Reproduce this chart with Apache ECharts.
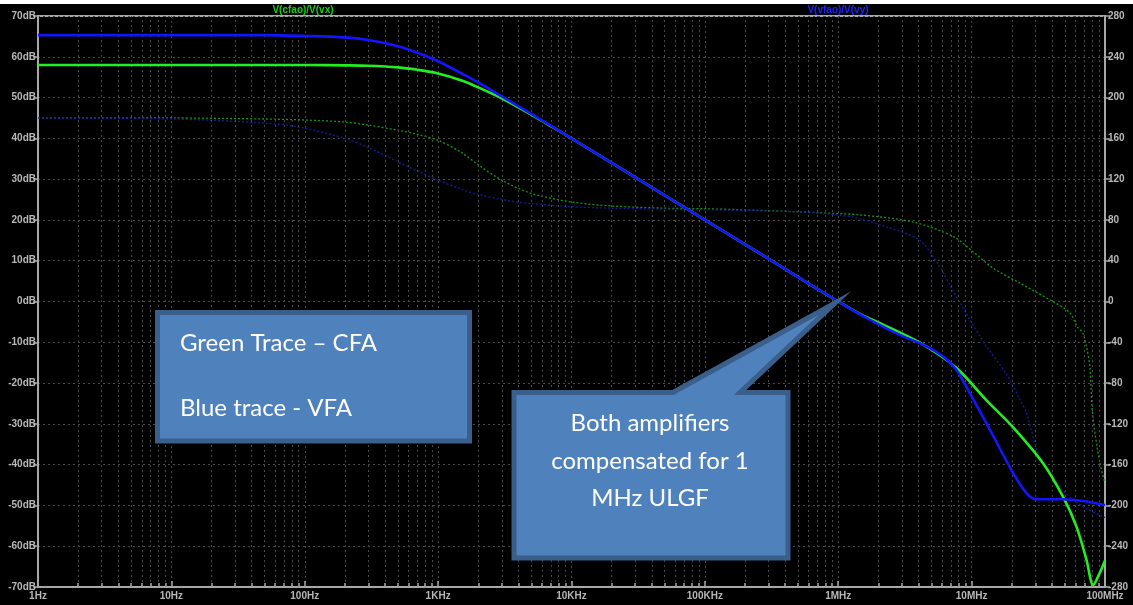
<!DOCTYPE html>
<html>
<head>
<meta charset="utf-8">
<script src="https://cdn.jsdelivr.net/npm/echarts@6/dist/echarts.min.js"></script>
<style>
html,body{margin:0;padding:0;background:#fff;}
#chart{width:1133px;height:605px;}
</style>
</head>
<body>
<div id="chart"></div>
<script>
// ---- data (frequency in Hz, magnitude in dB, phase in degrees) ----
const xTickLabels = ['1Hz','10Hz','100Hz','1KHz','10KHz','100KHz','1MHz','10MHz','100MHz'];

const cfaFreq = [1,10,50,100,200,300,500,700,1000,1500,2000,3000,5000,7000,1e4,2e4,5e4,1e5,2e5,5e5,1e6,1.5e6,2.05e6,4.09e6,7.7e6,1.3e7,2.04e7,3.42e7,4.83e7,6.11e7,7.26e7,8.15e7,9.14e7,1e8];
const cfaMag  = [58,58,58,58,57.9,57.8,57.4,56.8,55.9,54.2,52.5,49.8,45.8,43.0,40.0,34,26,20,14,6,0,-3.3,-5.3,-10.1,-16.3,-24.3,-30.8,-39.6,-47.8,-55.2,-63.3,-69.5,-66.5,-63.5];

const vfaFreq = [1,10,50,100,200,300,500,700,1000,1500,2000,3000,5000,7000,1e4,2e4,5e4,1e5,2e5,5e5,1e6,1.5e6,2.73e6,4.59e6,6.12e6,7.7e6,9.7e6,1.29e7,2.05e7,2.58e7,3.06e7,4.83e7,6.82e7,1e8];
const vfaMag  = [65.3,65.3,65.3,65.1,64.75,64.1,62.6,61.0,58.9,55.9,53.7,50.3,46.0,43.1,40.0,34,26,20,14,6,0,-3.4,-7.8,-11.0,-13.5,-16.8,-22.5,-29.8,-42.1,-47,-48.5,-48.5,-48.9,-49.9];

const cfaPhaseFreq = [1,10,50,100,200,300,500,700,1000,1500,2000,3000,5000,1e4,2e4,5e4,1e5,5e5,7.3e5,1.45e6,3.62e6,7.23e6,1.02e7,1.44e7,2.3e7,4.06e7,5.45e7,6.2e7,6.82e7,7.26e7,7.7e7,8.1e7,9.14e7,1e8];
const cfaPhase     = [180,180,179,178,176,173,168,164,158,146,134,119,106,97.6,93.7,91.5,91,88,87,85,78,64,49,33,18,0,-11,-25,-31,-44,-64,-112,-158,-178];

const vfaPhaseFreq = [1,10,50,100,200,300,500,700,1000,1500,2000,3000,5000,1e4,2e4,1e5,5e5,7.28e5,1.27e6,2.32e6,4.09e6,5.55e6,7.23e6,9.7e6,1.29e7,1.8e7,2.3e7,2.58e7,3.23e7,4.83e7,6.82e7,9.6e7,1e8];
const vfaPhase     = [180,179,175,170,160,151,137,128,119,110,105,100,96,93,91.5,90,88,86.6,83,73,60,37.5,11,-18,-44,-70,-96,-109.5,-152,-185,-201,-211,-212];

const traceNames = ['V(cfao)/V(vx)','V(vfao)/V(vy)'];
const minorMultipliers = [2,3,4,5,6,7,8,9];

// ---- build helpers ----
function zip(xs, ys){ return xs.map((x,i)=>[x, ys[i]]); }
const minorVals = [];
for (let d = 0; d < 8; d++) {
  minorMultipliers.forEach(m => minorVals.push(m * Math.pow(10, d)));
}
const minorGrid = minorVals.map(v => ({xAxis: v}));
const minorTicks = minorVals.map(v => [{coord:[v,-70]},{coord:[v,-69]}]);

const axisGray = '#a8a8a8';
const labelGray = '#b8b8b8';
const gridGray = '#4a4a4a';
const lblFont = {color: labelGray, fontFamily: 'Liberation Sans Narrow, Arial Narrow, sans-serif', fontSize: 10, fontWeight: 'bold'};
const boxFont = '24px Lato, "Open Sans", sans-serif';

const chart = echarts.init(document.getElementById('chart'), null, {renderer:'canvas'});
const option = {
  backgroundColor: '#000',
  animation: false,
  grid: {left: 38, right: 28, top: 16, bottom: 18, show: true, borderColor: axisGray, borderWidth: 2},
  xAxis: {
    type: 'log', logBase: 10, min: 1, max: 1e8, splitNumber: 8,
    axisLine: {show: true, onZero: false, lineStyle: {color: axisGray, width: 2}},
    axisTick: {show: true, inside: true, length: 6, lineStyle: {color: axisGray, width: 1.5}},
    axisLabel: Object.assign({margin: 4, formatter: v => xTickLabels[Math.round(Math.log10(v))] || ''}, lblFont),
    splitLine: {show: true, lineStyle: {color: gridGray, type: [2,3], width: 1}}
  },
  yAxis: [
    {
      type: 'value', min: -70, max: 70, interval: 10, position: 'left',
      axisLine: {show: true, onZero: false, lineStyle: {color: axisGray, width: 2}},
      axisTick: {show: true, inside: false, length: 5, lineStyle: {color: axisGray, width: 1.5}},
      axisLabel: Object.assign({margin: 2, formatter: '{value}dB'}, lblFont),
      splitLine: {show: true, lineStyle: {color: gridGray, type: [2,3], width: 1}}
    },
    {
      type: 'value', min: -280, max: 280, interval: 40, position: 'right',
      axisLine: {show: true, onZero: false, lineStyle: {color: axisGray, width: 2}},
      axisTick: {show: true, inside: false, length: 5, lineStyle: {color: axisGray, width: 1.5}},
      axisLabel: Object.assign({margin: 3}, lblFont),
      splitLine: {show: false}
    }
  ],
  series: [
    {
      type: 'line', name: 'grid', data: [[1, 0]], symbol: 'none', lineStyle: {opacity: 0}, silent: true, z: 1,
      markLine: {
        silent: true, symbol: 'none', label: {show: false}, animation: false,
        data: minorGrid,
        lineStyle: {color: gridGray, type: [2,3], width: 1}
      }
    },
    {
      type: 'line', name: 'tick', data: [[1, 0]], symbol: 'none', lineStyle: {opacity: 0}, silent: true, z: 3,
      markLine: {
        silent: true, symbol: 'none', label: {show: false}, animation: false,
        data: minorTicks,
        lineStyle: {color: axisGray, type: 'solid', width: 1.5}
      }
    },
    {
      type: 'line', name: traceNames[0] + ' phase', yAxisIndex: 1, data: zip(cfaPhaseFreq, cfaPhase),
      symbol: 'none', smooth: 0.3, z: 4,
      lineStyle: {color: '#139a13', width: 1.3, type: [2,2]}
    },
    {
      type: 'line', name: traceNames[1] + ' phase', yAxisIndex: 1, data: zip(vfaPhaseFreq, vfaPhase),
      symbol: 'none', smooth: 0.3, z: 4,
      lineStyle: {color: '#1a1aa0', width: 1.3, type: [2,2]}
    },
    {
      type: 'line', name: traceNames[0], data: zip(cfaFreq, cfaMag),
      symbol: 'none', smooth: 0.3, z: 5,
      lineStyle: {color: '#22ee22', width: 2.6}
    },
    {
      type: 'line', name: traceNames[1], data: zip(vfaFreq, vfaMag),
      symbol: 'none', smooth: 0.3, z: 6,
      lineStyle: {color: '#1414ff', width: 2.6}
    }
  ],
  graphic: [
    {type: 'rect', shape: {x: 0, y: 0, width: 1133, height: 4}, style: {fill: '#fff'}, z: 100},
    {type: 'text', x: 303, y: 10, style: {text: traceNames[0], fill: '#18d018', font: 'bold 10px "Liberation Sans Narrow", sans-serif', textAlign: 'center', textVerticalAlign: 'middle'}, z: 100},
    {type: 'text', x: 838, y: 10, style: {text: traceNames[1], fill: '#2020ff', font: 'bold 10px "Liberation Sans Narrow", sans-serif', textAlign: 'center', textVerticalAlign: 'middle'}, z: 100},
    {type: 'rect', shape: {x: 157.5, y: 312.5, width: 312, height: 128.5}, style: {fill: '#4f81bd', stroke: '#3a5f8b', lineWidth: 5}, z: 100},
    {type: 'text', x: 180, y: 343, style: {text: 'Green Trace – CFA', fill: '#fff', font: boxFont, textVerticalAlign: 'middle'}, z: 101},
    {type: 'text', x: 180, y: 408, style: {text: 'Blue trace - VFA', fill: '#fff', font: boxFont, textVerticalAlign: 'middle'}, z: 101},
    {type: 'polygon', shape: {points: [[514,392.5],[673,392.5],[835,303],[740,392.5],[788,392.5],[788,558],[514,558]]}, style: {fill: '#4f81bd', stroke: '#3a5f8b', lineWidth: 5, lineJoin: 'miter'}, z: 100},
    {type: 'text', x: 650, y: 423, style: {text: 'Both amplifiers', fill: '#fff', font: boxFont, textAlign: 'center', textVerticalAlign: 'middle'}, z: 101},
    {type: 'text', x: 650, y: 461, style: {text: 'compensated for 1', fill: '#fff', font: boxFont, textAlign: 'center', textVerticalAlign: 'middle'}, z: 101},
    {type: 'text', x: 650, y: 498, style: {text: 'MHz ULGF', fill: '#fff', font: boxFont, textAlign: 'center', textVerticalAlign: 'middle'}, z: 101}
  ]
};
chart.setOption(option);
</script>
</body>
</html>
